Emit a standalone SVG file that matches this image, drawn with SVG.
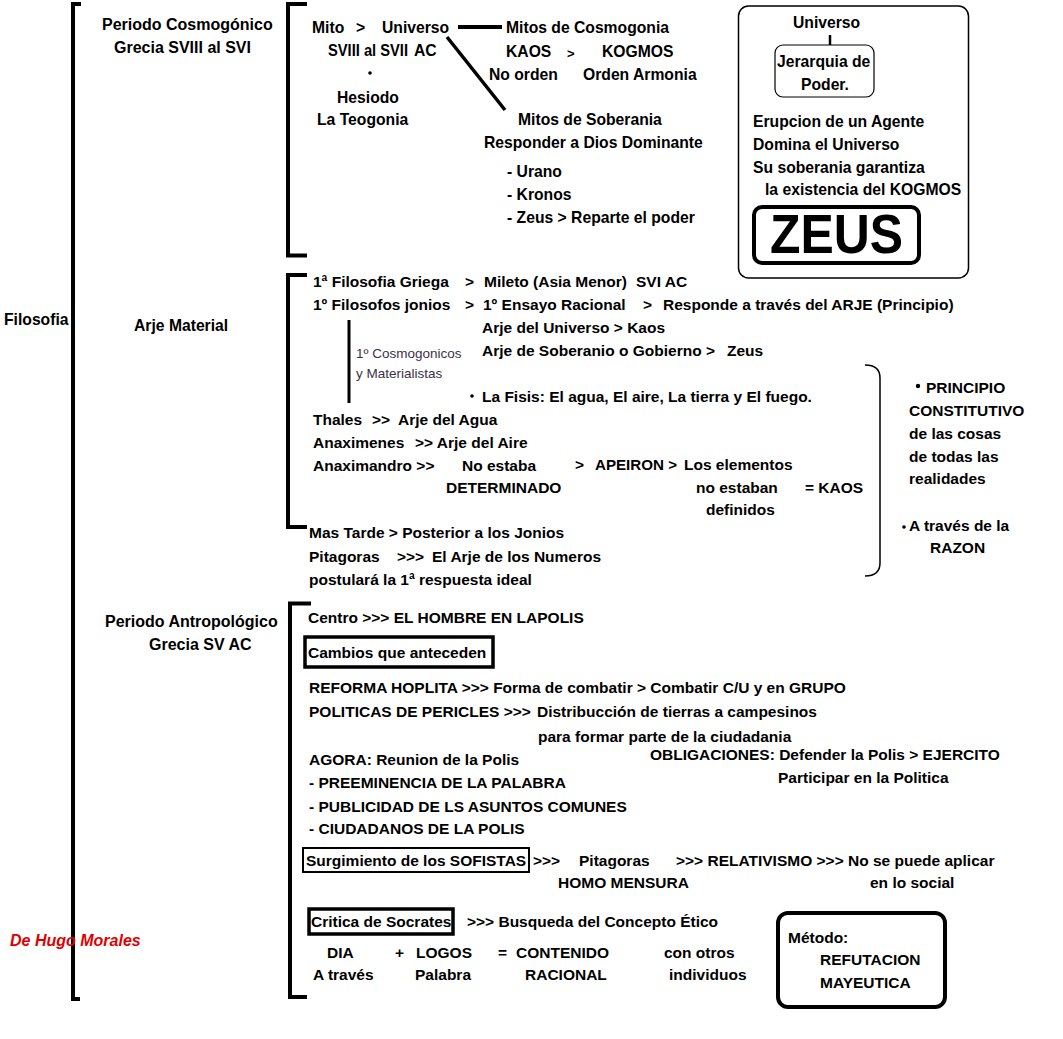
<svg xmlns="http://www.w3.org/2000/svg" width="1063" height="1039" viewBox="0 0 1063 1039">
<style>
text{font-family:"Liberation Sans",Arial,sans-serif;font-weight:bold;font-size:15.7px;fill:#000}
.m{font-size:15.5px}
.sm{font-weight:normal;font-size:13.5px;fill:#3d3049}
.red{fill:#e00000;font-style:italic;font-size:16px}
.br{fill:none;stroke:#000;stroke-width:4;stroke-linejoin:miter}
.ln{fill:none;stroke:#000}
</style>
<rect width="1063" height="1039" fill="#fff"/>
<g id="connectors">
<path class="br" d="M81,4 H73 V999 H80" stroke-width="5"/>
<path class="br" d="M307,4 H288 V255.5 H307"/>
<path class="br" d="M307,275 H288 V527 H307"/>
<path class="br" d="M311,603.5 H290 V997 H307"/>
<path class="ln" d="M458,27 H502" stroke-width="4"/>
<path class="ln" d="M447,37 L505,110" stroke-width="3.5"/>
<path class="ln" d="M349,320 V403" stroke-width="3"/>
<path class="ln" d="M830,35 V45" stroke-width="2.5"/>
<path class="ln" d="M865,365 Q880,365 880,378 V563 Q880,576 865,576" stroke-width="1.5"/>
</g>
<g id="root"><text x="4" y="325">Filosofia</text></g>
<g id="cosmogonico">
<text x="102" y="30" style="font-size:16px">Periodo Cosmogónico</text>
<text x="114" y="53" style="font-size:16px">Grecia SVIII al SVI</text>
</g>
<g id="mito">
<text x="312" y="33">Mito</text><text x="356" y="33">&gt;</text><text x="382" y="33">Universo</text>
<text x="328" y="56" textLength="80" lengthAdjust="spacingAndGlyphs">SVIII al SVII</text><text x="414" y="56">AC</text>
<circle cx="370" cy="73" r="1.8" fill="#000"/>
<text x="337" y="103">Hesiodo</text>
<text x="317" y="125">La Teogonia</text>
</g>
<g id="cosmogonia">
<text x="506" y="33">Mitos de Cosmogonia</text>
<text x="506" y="57">KAOS</text><text x="567" y="58" style="font-size:13px">&gt;</text><text x="602" y="57">KOGMOS</text>
<text x="489" y="80">No orden</text><text x="583" y="80">Orden Armonia</text>
</g>
<g id="soberania">
<text x="518" y="125">Mitos de Soberania</text>
<text x="484" y="148">Responder a Dios Dominante</text>
<text x="507" y="177">- Urano</text>
<text x="507" y="200">- Kronos</text>
<text x="507" y="223">- Zeus &gt; Reparte el poder</text>
</g>
<g id="zeus-box">
<rect x="738.5" y="6" width="230" height="272" rx="10" fill="none" stroke="#000" stroke-width="1.5"/>
<text x="793" y="28">Universo</text>
<rect x="775" y="45" width="99" height="52" rx="8" fill="none" stroke="#000" stroke-width="1.2"/>
<text x="777" y="67">Jerarquia de</text>
<text x="801" y="90">Poder.</text>
<text x="753" y="127">Erupcion de un Agente</text>
<text x="753" y="150">Domina el Universo</text>
<text x="753" y="173">Su soberania garantiza</text>
<text x="765" y="195">la existencia del KOGMOS</text>
<rect x="754" y="207" width="165" height="56" rx="8" fill="none" stroke="#000" stroke-width="4"/>
<text x="770" y="253" style="font-size:56px" textLength="133" lengthAdjust="spacingAndGlyphs">ZEUS</text>
</g>
<g id="arje-label"><text x="134" y="331">Arje Material</text></g>
<g id="arje">
<text class="m" x="313" y="287">1ª Filosofia Griega</text><text class="m" x="465" y="287">&gt;</text><text class="m" x="484" y="287">Mileto (Asia Menor)</text><text class="m" x="636" y="287">SVI AC</text>
<text class="m" x="313" y="310">1º Filosofos jonios</text><text class="m" x="465" y="310">&gt;</text><text class="m" x="483" y="310">1º Ensayo Racional</text><text class="m" x="643" y="310">&gt;</text><text class="m" x="663" y="310">Responde a través del ARJE (Principio)</text>
<text class="m" x="482" y="333">Arje del Universo &gt; Kaos</text>
<text class="m" x="482" y="356">Arje de Soberanio o Gobierno &gt;</text><text class="m" x="727" y="356">Zeus</text>
<text class="sm" x="356" y="358">1º Cosmogonicos</text>
<text class="sm" x="356" y="378">y Materialistas</text>
<circle cx="472" cy="396" r="1.8" fill="#000"/>
<text class="m" x="482" y="402">La Fisis: El agua, El aire, La tierra y El fuego.</text>
<text class="m" x="313" y="425">Thales</text><text class="m" x="372" y="425">&gt;&gt;</text><text class="m" x="398" y="425">Arje del Agua</text>
<text class="m" x="313" y="448">Anaximenes</text><text class="m" x="415" y="448">&gt;&gt; Arje del Aire</text>
<text class="m" x="313" y="471">Anaximandro &gt;&gt;</text><text class="m" x="462" y="471">No estaba</text><text class="m" x="575" y="470">&gt;</text><text class="m" x="595" y="470" textLength="82" lengthAdjust="spacingAndGlyphs">APEIRON &gt;</text><text class="m" x="684" y="470">Los elementos</text>
<text class="m" x="446" y="493">DETERMINADO</text><text class="m" x="696" y="493">no estaban</text><text class="m" x="805" y="493">= KAOS</text>
<text class="m" x="706" y="515">definidos</text>
<text class="m" x="309" y="538">Mas Tarde &gt; Posterior a los Jonios</text>
<text class="m" x="309" y="562">Pitagoras</text><text class="m" x="397" y="562">&gt;&gt;&gt;</text><text class="m" x="432" y="562">El Arje de los Numeros</text>
<text class="m" x="309" y="585">postulará la 1ª respuesta ideal</text>
</g>
<g id="principio">
<circle cx="918" cy="386" r="2.2" fill="#000"/>
<text class="m" x="926" y="393">PRINCIPIO</text>
<text class="m" x="909" y="416">CONSTITUTIVO</text>
<text class="m" x="909" y="439">de las cosas</text>
<text class="m" x="909" y="462">de todas las</text>
<text class="m" x="909" y="484">realidades</text>
<circle cx="904" cy="527" r="1.8" fill="#000"/>
<text class="m" x="909" y="531">A través de la</text>
<text class="m" x="930" y="553">RAZON</text>
</g>
<g id="antropologico">
<text x="105" y="627" style="font-size:16px">Periodo Antropológico</text>
<text x="149" y="650" style="font-size:16px">Grecia SV AC</text>
</g>
<g id="polis">
<text class="m" x="308" y="623">Centro &gt;&gt;&gt; EL HOMBRE EN LAPOLIS</text>
<rect x="305" y="637" width="188" height="30" fill="none" stroke="#000" stroke-width="3.5"/>
<text class="m" x="308" y="658">Cambios que anteceden</text>
<text class="m" x="309" y="693">REFORMA HOPLITA &gt;&gt;&gt; Forma de combatir &gt; Combatir C/U y en GRUPO</text>
<text class="m" x="309" y="717">POLITICAS DE PERICLES &gt;&gt;&gt;</text><text class="m" x="537" y="717">Distribucción de tierras a campesinos</text>
<text class="m" x="538" y="742">para formar parte de la ciudadania</text>
<text class="m" x="309" y="765">AGORA: Reunion de la Polis</text>
<text class="m" x="650" y="760">OBLIGACIONES: Defender la Polis &gt; EJERCITO</text>
<text class="m" x="778" y="783">Participar en la Politica</text>
<text class="m" x="309" y="788">- PREEMINENCIA DE LA PALABRA</text>
<text class="m" x="309" y="812">- PUBLICIDAD DE LS ASUNTOS COMUNES</text>
<text class="m" x="309" y="834">- CIUDADANOS DE LA POLIS</text>
</g>
<g id="sofistas">
<rect x="303" y="848" width="226" height="24" fill="none" stroke="#000" stroke-width="2"/>
<text class="m" x="306" y="866">Surgimiento de los SOFISTAS</text>
<text class="m" x="533" y="866">&gt;&gt;&gt;</text><text class="m" x="579" y="866">Pitagoras</text><text class="m" x="676" y="866">&gt;&gt;&gt; RELATIVISMO &gt;&gt;&gt; No se puede aplicar</text>
<text class="m" x="558" y="888">HOMO MENSURA</text><text class="m" x="870" y="888">en lo social</text>
</g>
<g id="socrates">
<rect x="309" y="909" width="144" height="25" fill="none" stroke="#000" stroke-width="3.5"/>
<text class="m" x="311" y="927">Critica de Socrates</text>
<text class="m" x="467" y="927">&gt;&gt;&gt; Busqueda del Concepto Ético</text>
<text class="m" x="327" y="958">DIA</text><text class="m" x="395" y="958">+</text><text class="m" x="416" y="958">LOGOS</text><text class="m" x="498" y="958">=</text><text class="m" x="516" y="958">CONTENIDO</text><text class="m" x="664" y="958">con otros</text>
<text class="m" x="313" y="980">A través</text><text class="m" x="415" y="980">Palabra</text><text class="m" x="525" y="980">RACIONAL</text><text class="m" x="669" y="980">individuos</text>
</g>
<g id="metodo">
<rect x="778" y="913" width="167" height="94" rx="10" fill="none" stroke="#000" stroke-width="4"/>
<text class="m" x="788" y="943">Método:</text>
<text class="m" x="820" y="965">REFUTACION</text>
<text class="m" x="820" y="988">MAYEUTICA</text>
</g>
<g id="author"><text class="red" x="10" y="946">De Hugo Morales</text></g>
</svg>
